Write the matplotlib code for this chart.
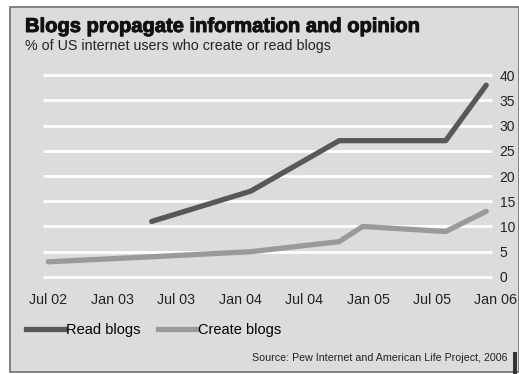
import matplotlib
matplotlib.use("Agg")
import matplotlib.pyplot as plt
import matplotlib.patheffects as pe
from matplotlib.lines import Line2D
from matplotlib.patches import Rectangle

plt.rcParams['font.family'] = ['Liberation Sans', 'DejaVu Sans']

# months since Jul 2002
read_x = [9.7, 19, 27.3, 37.3, 41.1]
read_y = [11, 17, 27, 27, 38]
create_x = [0, 9.7, 19, 27.3, 29.5, 37.3, 41.1]
create_y = [3, 4, 5, 7, 10, 9, 13]
tick_pos = [0, 6, 12, 18, 24, 30, 36, 42]
tick_labels = ["Jul 02", "Jan 03", "Jul 03", "Jan 04", "Jul 04", "Jan 05", "Jul 05", "Jan 06"]
y_ticks = [0, 5, 10, 15, 20, 25, 30, 35, 40]

W, H = 519, 374
fig = plt.figure(figsize=(W / 100, H / 100), dpi=100)
fig.patch.set_facecolor('white')
bg = '#dcdcdc'
# panel background with border
fig.patches.append(Rectangle((10 / W, 1 - 372 / H), (W - 10) / W, (372 - 7) / H,
                             transform=fig.transFigure, facecolor=bg,
                             edgecolor='#707070', linewidth=1.2, zorder=-2))
fig.patches.append(Rectangle((513 / W, 0), 4 / W, 22 / H, transform=fig.transFigure,
                             facecolor='#333333', edgecolor='none', zorder=-1))

ax = fig.add_axes([43 / W, 1 - 282 / H, (499 - 43) / W, (282 - 70) / H])
ax.patch.set_alpha(0)
ax.set_xlim(-0.5, 42.3)
ax.set_ylim(-1, 41)
for s in ax.spines.values():
    s.set_visible(False)

ax.hlines(y_ticks, 0, 0.985, transform=ax.get_yaxis_transform(), color='white', lw=2, zorder=1)

ax.plot(create_x, create_y, color='#9a9a9a', lw=3.8, solid_capstyle='round', solid_joinstyle='round', zorder=3)
ax.plot(read_x, read_y, color='#585858', lw=3.8, solid_capstyle='round', solid_joinstyle='round', zorder=4)

ax.yaxis.tick_right()
ax.set_yticks(y_ticks)
ax.set_yticklabels([str(v) for v in y_ticks], fontsize=10, color='#222222')
ax.set_xticks(tick_pos)
ax.set_xticklabels(tick_labels, fontsize=10.3, color='#222222')
ax.tick_params(axis='both', length=0)
ax.tick_params(axis='y', pad=0.5)
ax.tick_params(axis='x', pad=8)
for lbl in ax.get_xticklabels():
    lbl.set_clip_on(False)

fig.text(25 / W, 1 - 32 / H, "Blogs propagate information and opinion", fontsize=14.5,
         fontweight='heavy', color='#111111', ha='left', va='baseline',
         path_effects=[pe.withStroke(linewidth=0.7, foreground='#111111')])
fig.text(25 / W, 1 - 50 / H, "% of US internet users who create or read blogs", fontsize=10.3,
         color='#222222', ha='left', va='baseline')

handles = [Line2D([], [], color='#585858', lw=3.8), Line2D([], [], color='#9a9a9a', lw=3.8)]
fig.legend(handles, ["Read blogs", "Create blogs"], loc='center left',
           bbox_to_anchor=(20 / W, 1 - 330 / H), ncol=2, frameon=False, fontsize=10.5,
           handlelength=2.7, handletextpad=0.05, columnspacing=1.2, borderaxespad=0)

fig.text(508 / W, 1 - 361 / H, "Source: Pew Internet and American Life Project, 2006", fontsize=7.7,
         color='#222222', ha='right', va='baseline')

fig.savefig('out.png', dpi=100, facecolor=fig.get_facecolor())
